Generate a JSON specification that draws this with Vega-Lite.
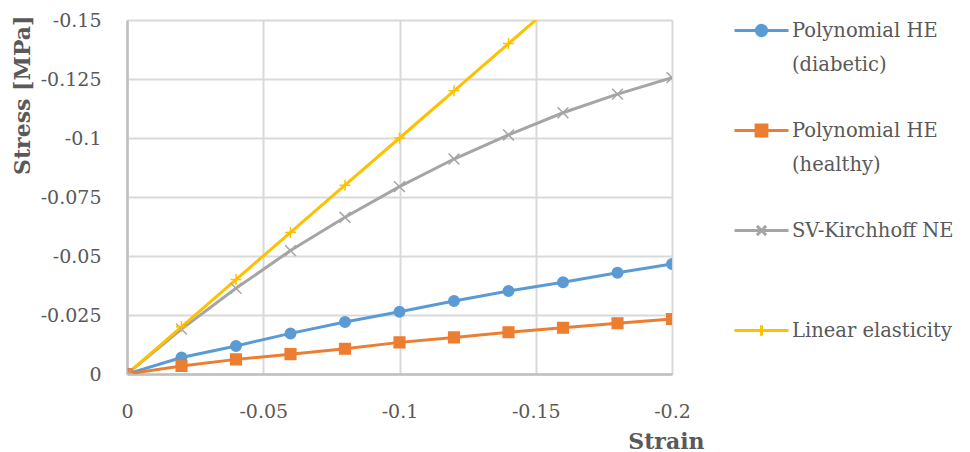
{
  "$schema": "https://vega.github.io/schema/vega-lite/v6.json",
  "width": 545,
  "height": 354,
  "autosize": "none",
  "padding": {"left": 127, "top": 20, "right": 298, "bottom": 78},
  "background": "white",
  "config": {
    "view": {"stroke": null},
    "font": "DejaVu Serif",
    "style": {"guide-label": {"lineHeight": 34}}
  },
  "data": {
    "values": [
      {"series": "Polynomial HE (diabetic)", "strain": 0, "stress": 0},
      {"series": "Polynomial HE (diabetic)", "strain": -0.02, "stress": -0.0070},
      {"series": "Polynomial HE (diabetic)", "strain": -0.04, "stress": -0.0119},
      {"series": "Polynomial HE (diabetic)", "strain": -0.06, "stress": -0.0172},
      {"series": "Polynomial HE (diabetic)", "strain": -0.08, "stress": -0.0220},
      {"series": "Polynomial HE (diabetic)", "strain": -0.10, "stress": -0.0264},
      {"series": "Polynomial HE (diabetic)", "strain": -0.12, "stress": -0.0309},
      {"series": "Polynomial HE (diabetic)", "strain": -0.14, "stress": -0.0352},
      {"series": "Polynomial HE (diabetic)", "strain": -0.16, "stress": -0.0389},
      {"series": "Polynomial HE (diabetic)", "strain": -0.18, "stress": -0.0429},
      {"series": "Polynomial HE (diabetic)", "strain": -0.20, "stress": -0.0466},
      {"series": "Polynomial HE (healthy)", "strain": 0, "stress": 0},
      {"series": "Polynomial HE (healthy)", "strain": -0.02, "stress": -0.0034},
      {"series": "Polynomial HE (healthy)", "strain": -0.04, "stress": -0.0062},
      {"series": "Polynomial HE (healthy)", "strain": -0.06, "stress": -0.0084},
      {"series": "Polynomial HE (healthy)", "strain": -0.08, "stress": -0.0107},
      {"series": "Polynomial HE (healthy)", "strain": -0.10, "stress": -0.0134},
      {"series": "Polynomial HE (healthy)", "strain": -0.12, "stress": -0.0155},
      {"series": "Polynomial HE (healthy)", "strain": -0.14, "stress": -0.0177},
      {"series": "Polynomial HE (healthy)", "strain": -0.16, "stress": -0.0196},
      {"series": "Polynomial HE (healthy)", "strain": -0.18, "stress": -0.0215},
      {"series": "Polynomial HE (healthy)", "strain": -0.20, "stress": -0.0233},
      {"series": "SV-Kirchhoff NE", "strain": 0, "stress": 0},
      {"series": "SV-Kirchhoff NE", "strain": -0.02, "stress": -0.0190},
      {"series": "SV-Kirchhoff NE", "strain": -0.04, "stress": -0.0363},
      {"series": "SV-Kirchhoff NE", "strain": -0.06, "stress": -0.0523},
      {"series": "SV-Kirchhoff NE", "strain": -0.08, "stress": -0.0664},
      {"series": "SV-Kirchhoff NE", "strain": -0.10, "stress": -0.0794},
      {"series": "SV-Kirchhoff NE", "strain": -0.12, "stress": -0.0911},
      {"series": "SV-Kirchhoff NE", "strain": -0.14, "stress": -0.1013},
      {"series": "SV-Kirchhoff NE", "strain": -0.16, "stress": -0.1107},
      {"series": "SV-Kirchhoff NE", "strain": -0.18, "stress": -0.1186},
      {"series": "SV-Kirchhoff NE", "strain": -0.20, "stress": -0.1256},
      {"series": "Linear elasticity", "strain": 0, "stress": 0},
      {"series": "Linear elasticity", "strain": -0.02, "stress": -0.02},
      {"series": "Linear elasticity", "strain": -0.04, "stress": -0.04},
      {"series": "Linear elasticity", "strain": -0.06, "stress": -0.06},
      {"series": "Linear elasticity", "strain": -0.08, "stress": -0.08},
      {"series": "Linear elasticity", "strain": -0.10, "stress": -0.10},
      {"series": "Linear elasticity", "strain": -0.12, "stress": -0.12},
      {"series": "Linear elasticity", "strain": -0.14, "stress": -0.14},
      {"series": "Linear elasticity", "strain": -0.16, "stress": -0.16},
      {"series": "Linear elasticity", "strain": -0.18, "stress": -0.18},
      {"series": "Linear elasticity", "strain": -0.20, "stress": -0.20}
    ]
  },
  "resolve": {"scale": {"stroke": "independent", "fill": "independent", "shape": "independent", "size": "independent"}},
  "encoding": {
    "x": {
      "field": "strain",
      "type": "quantitative",
      "scale": {"domain": [0, -0.2], "nice": false, "zero": false},
      "axis": {
        "values": [0, -0.05, -0.1, -0.15, -0.2],
        "labelExpr": "datum.value == 0 ? '0' : '-' + format(-datum.value, '')",
        "title": "Strain",
        "titleFont": "DejaVu Serif",
        "titleFontSize": 22,
        "titleFontWeight": "bold",
        "titleColor": "#595959",
        "titleX": 577,
        "titleY": 67,
        "titleAlign": "right",
        "titleBaseline": "middle",
        "labelFont": "DejaVu Serif",
        "labelFontSize": 19,
        "labelColor": "#595959",
        "labelPadding": 28,
        "labelFlush": false,
        "labelBaseline": "top",
        "ticks": false,
        "domainColor": "#BFBFBF",
        "domainWidth": 2.5,
        "gridColor": "#D9D9D9",
        "gridWidth": 2,
        "zindex": 0
      }
    },
    "y": {
      "field": "stress",
      "type": "quantitative",
      "scale": {"domain": [0, -0.15], "nice": false, "zero": false},
      "axis": {
        "values": [0, -0.025, -0.05, -0.075, -0.1, -0.125, -0.15],
        "labelExpr": "datum.value == 0 ? '0' : '-' + format(-datum.value, '')",
        "title": "Stress [MPa]",
        "titleFont": "DejaVu Serif",
        "titleFontSize": 22,
        "titleFontWeight": "bold",
        "titleColor": "#595959",
        "titleAngle": -90,
        "titleX": -105,
        "titleY": -5,
        "titleAlign": "right",
        "titleBaseline": "middle",
        "labelFont": "DejaVu Serif",
        "labelFontSize": 19,
        "labelColor": "#595959",
        "labelPadding": 26,
        "labelFlush": false,
        "ticks": false,
        "domainColor": "#BFBFBF",
        "domainWidth": 2.5,
        "gridColor": "#D9D9D9",
        "gridWidth": 2,
        "zindex": 0
      }
    }
  },
  "layer": [
    {
      "mark": {"type": "line", "strokeWidth": 3, "clip": true},
      "encoding": {
        "stroke": {
          "field": "series",
          "type": "nominal",
          "sort": ["Polynomial HE (diabetic)", "Polynomial HE (healthy)", "SV-Kirchhoff NE", "Linear elasticity"],
          "scale": {
            "domain": ["Polynomial HE (diabetic)", "Polynomial HE (healthy)", "SV-Kirchhoff NE", "Linear elasticity"],
            "range": ["#5B9BD5", "#ED7D31", "#A5A5A5", "#FFC000"]
          },
          "legend": null
        }
      }
    },
    {
      "mark": {"type": "point", "filled": true, "strokeWidth": 1.5, "opacity": 1, "clip": true},
      "encoding": {
        "fill": {
          "field": "series",
          "type": "nominal",
          "scale": {
            "domain": ["Polynomial HE (diabetic)", "Polynomial HE (healthy)", "SV-Kirchhoff NE", "Linear elasticity"],
            "range": ["#5B9BD5", "#ED7D31", "#A5A5A5", "#FFC000"]
          },
          "legend": null
        },
        "stroke": {
          "field": "series",
          "type": "nominal",
          "scale": {
            "domain": ["Polynomial HE (diabetic)", "Polynomial HE (healthy)", "SV-Kirchhoff NE", "Linear elasticity"],
            "range": ["#5B9BD5", "#ED7D31", "#A5A5A5", "#FFC000"]
          },
          "legend": null
        },
        "shape": {
          "field": "series",
          "type": "nominal",
          "scale": {
            "domain": ["Polynomial HE (diabetic)", "Polynomial HE (healthy)", "SV-Kirchhoff NE", "Linear elasticity"],
            "range": ["circle", "square", "M-1,-1L1,1M-1,1L1,-1", "M-1,0H1M0,-1V1"]
          },
          "legend": null
        },
        "size": {
          "field": "series",
          "type": "nominal",
          "scale": {
            "domain": ["Polynomial HE (diabetic)", "Polynomial HE (healthy)", "SV-Kirchhoff NE", "Linear elasticity"],
            "range": [110, 121, 144, 110]
          },
          "legend": null
        }
      }
    },
    {
      "transform": [{"filter": "false"}],
      "mark": {"type": "point", "filled": true, "strokeWidth": 3, "opacity": 1},
      "encoding": {
        "fill": {
          "field": "series",
          "type": "nominal",
          "scale": {
            "domain": ["Polynomial HE (diabetic)", "Polynomial HE (healthy)", "SV-Kirchhoff NE", "Linear elasticity"],
            "range": ["#5B9BD5", "#ED7D31", "#A5A5A5", "#FFC000"]
          },
          "legend": {
            "orient": "none",
            "legendX": 606,
            "legendY": -18,
            "title": null,
            "padding": 0,
            "gridAlign": "all",
            "rowPadding": 28,
            "symbolSize": 2916,
            "symbolStrokeWidth": 3,
            "symbolOpacity": 1,
            "labelOffset": 2,
            "labelFont": "DejaVu Serif",
            "labelFontSize": 19.5,
            "labelColor": "#595959",
            "labelBaseline": "middle",
            "labelLimit": 300,
            "labelExpr": "datum.label == 'Polynomial HE (diabetic)' ? ['Polynomial HE', '(diabetic)'] : datum.label == 'Polynomial HE (healthy)' ? ['Polynomial HE', '(healthy)'] : datum.label"
          }
        },
        "stroke": {
          "field": "series",
          "type": "nominal",
          "scale": {
            "domain": ["Polynomial HE (diabetic)", "Polynomial HE (healthy)", "SV-Kirchhoff NE", "Linear elasticity"],
            "range": ["#5B9BD5", "#ED7D31", "#A5A5A5", "#FFC000"]
          },
          "legend": {
            "orient": "none",
            "legendX": 606,
            "legendY": -18,
            "title": null,
            "padding": 0,
            "gridAlign": "all",
            "rowPadding": 28,
            "symbolSize": 2916,
            "symbolStrokeWidth": 3,
            "symbolOpacity": 1,
            "labelOffset": 2,
            "labelFont": "DejaVu Serif",
            "labelFontSize": 19.5,
            "labelColor": "#595959",
            "labelBaseline": "middle",
            "labelLimit": 300,
            "labelExpr": "datum.label == 'Polynomial HE (diabetic)' ? ['Polynomial HE', '(diabetic)'] : datum.label == 'Polynomial HE (healthy)' ? ['Polynomial HE', '(healthy)'] : datum.label"
          }
        },
        "shape": {
          "field": "series",
          "type": "nominal",
          "scale": {
            "domain": ["Polynomial HE (diabetic)", "Polynomial HE (healthy)", "SV-Kirchhoff NE", "Linear elasticity"],
            "range": [
              "M-1,0H1M0.19,0A0.19,0.19,0,1,1,-0.19,0A0.19,0.19,0,1,1,0.19,0Z",
              "M-1,0H1M-0.2,-0.2H0.2V0.2H-0.2Z",
              "M-1,0H1M-0.17,-0.17L0.17,0.17M-0.17,0.17L0.17,-0.17",
              "M-1,0H1M0,-0.19V0.19"
            ]
          },
          "legend": {
            "orient": "none",
            "legendX": 606,
            "legendY": -18,
            "title": null,
            "padding": 0,
            "gridAlign": "all",
            "rowPadding": 28,
            "symbolSize": 2916,
            "symbolStrokeWidth": 3,
            "symbolOpacity": 1,
            "labelOffset": 2,
            "labelFont": "DejaVu Serif",
            "labelFontSize": 19.5,
            "labelColor": "#595959",
            "labelBaseline": "middle",
            "labelLimit": 300,
            "labelExpr": "datum.label == 'Polynomial HE (diabetic)' ? ['Polynomial HE', '(diabetic)'] : datum.label == 'Polynomial HE (healthy)' ? ['Polynomial HE', '(healthy)'] : datum.label"
          }
        }
      }
    }
  ]
}
